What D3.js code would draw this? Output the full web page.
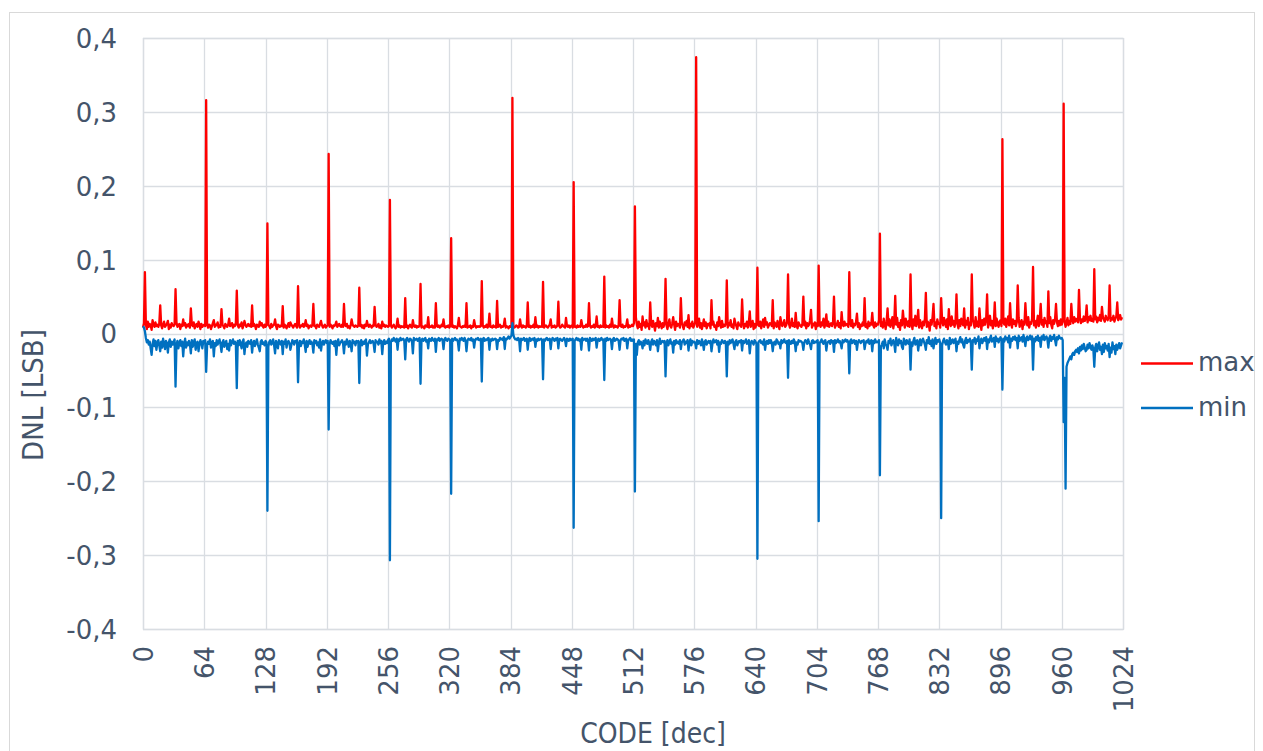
<!DOCTYPE html>
<html>
<head>
<meta charset="utf-8">
<script src="https://cdn.jsdelivr.net/npm/d3@7"></script>
<style>
  body { margin: 0; background: #ffffff; }
  svg { display: block; }
</style>
</head>
<body>
<svg id="chart" width="1263" height="751"></svg>
<script>
// ---------------- DATA ----------------
const xTickValues = [0, 64, 128, 192, 256, 320, 384, 448, 512, 576, 640, 704, 768, 832, 896, 960, 1024];
const xTickLabels = ["0", "64", "128", "192", "256", "320", "384", "448", "512", "576", "640", "704", "768", "832", "896", "960", "1024"];
const yTickValues = [-0.4, -0.3, -0.2, -0.1, 0, 0.1, 0.2, 0.3, 0.4];
const yTickLabels = ["-0,4", "-0,3", "-0,2", "-0,1", "0", "0,1", "0,2", "0,3", "0,4"];
const xTitle = "CODE [dec]";
const yTitle = "DNL [LSB]";
const seriesNames = ["max", "min"];

// DNL max per code (LSB), codes 0..1023
const maxValues = [
.008,.014,.083,.012,.006,.016,.009,.013,.011,.005,.018,.012,.009,.015,.010,.012,
.009,.013,.038,.011,.007,.012,.016,.009,.011,.013,.017,.006,.012,.008,.014,.011,
.010,.012,.060,.015,.009,.011,.013,.006,.012,.010,.019,.011,.014,.008,.012,.010,
.013,.008,.034,.012,.010,.015,.007,.011,.013,.009,.016,.012,.006,.013,.009,.011,
.012,.010,.316,.013,.008,.012,.011,.006,.010,.014,.018,.009,.012,.011,.015,.008,
.011,.009,.033,.012,.010,.007,.013,.011,.009,.012,.020,.010,.011,.014,.008,.012,
.010,.013,.058,.011,.008,.012,.010,.015,.007,.011,.017,.012,.009,.011,.013,.010,
.012,.009,.038,.010,.013,.011,.006,.012,.010,.009,.016,.011,.014,.010,.008,.012,
.009,.011,.149,.012,.010,.007,.013,.009,.011,.012,.019,.010,.006,.012,.011,.009,
.011,.010,.037,.008,.012,.010,.007,.011,.014,.009,.015,.012,.010,.008,.011,.013,
.010,.008,.064,.012,.008,.011,.010,.013,.009,.011,.018,.010,.012,.007,.010,.011,
.009,.012,.040,.010,.011,.007,.012,.010,.009,.013,.017,.011,.008,.010,.012,.008,
.010,.011,.243,.009,.012,.010,.007,.011,.010,.012,.016,.009,.011,.013,.010,.009,
.012,.009,.040,.011,.010,.013,.008,.010,.007,.011,.019,.012,.010,.009,.011,.010,
.009,.011,.062,.010,.012,.008,.011,.007,.012,.010,.017,.011,.009,.012,.010,.008,
.011,.010,.036,.012,.009,.010,.013,.008,.011,.007,.016,.010,.012,.009,.011,.010,
.009,.010,.181,.011,.008,.010,.012,.009,.007,.010,.020,.009,.011,.008,.010,.009,
.010,.008,.048,.009,.011,.007,.010,.012,.009,.008,.018,.010,.009,.011,.008,.010,
.009,.011,.067,.008,.010,.009,.007,.011,.010,.009,.022,.008,.010,.009,.011,.008,
.010,.008,.041,.010,.009,.011,.008,.009,.012,.010,.019,.009,.008,.010,.009,.011,
.008,.010,.129,.009,.011,.008,.010,.009,.007,.011,.021,.010,.009,.008,.010,.009,
.011,.009,.041,.008,.010,.009,.011,.007,.010,.009,.018,.011,.008,.010,.009,.010,
.009,.010,.071,.011,.008,.010,.009,.012,.008,.010,.027,.009,.010,.008,.011,.009,
.010,.008,.044,.009,.010,.012,.008,.010,.009,.011,.020,.008,.010,.009,.007,.010,
.009,.011,.319,.010,.008,.009,.011,.010,.008,.009,.019,.010,.008,.011,.009,.010,
.008,.010,.042,.009,.011,.008,.010,.009,.012,.008,.022,.009,.011,.008,.010,.009,
.010,.009,.070,.008,.010,.011,.009,.008,.010,.012,.019,.008,.010,.009,.011,.008,
.009,.011,.043,.010,.008,.009,.012,.010,.009,.008,.021,.010,.009,.011,.008,.010,
.011,.008,.205,.009,.010,.008,.011,.009,.010,.009,.018,.011,.008,.010,.009,.012,
.009,.010,.041,.011,.008,.010,.009,.012,.008,.010,.023,.009,.010,.008,.011,.009,
.010,.009,.077,.008,.011,.009,.010,.008,.012,.009,.020,.010,.008,.011,.009,.010,
.008,.011,.045,.010,.009,.012,.008,.010,.009,.011,.019,.008,.011,.009,.010,.012,
.010,.014,.172,.022,.012,.007,.016,.009,.013,.005,.023,.011,.015,.008,.018,.010,
.013,.006,.042,.012,.009,.017,.011,.004,.014,.010,.021,.008,.016,.012,.007,.014,
.009,.015,.074,.011,.006,.013,.019,.010,.008,.014,.022,.012,.005,.016,.010,.013,
.012,.008,.048,.014,.010,.006,.015,.011,.017,.009,.025,.007,.013,.010,.016,.008,
.011,.015,.374,.009,.013,.020,.008,.014,.006,.012,.019,.010,.015,.007,.013,.011,
.014,.007,.045,.012,.016,.009,.011,.005,.015,.010,.022,.013,.008,.017,.009,.012,
.010,.013,.072,.008,.014,.011,.018,.009,.012,.007,.020,.014,.010,.006,.015,.011,
.012,.009,.046,.015,.007,.013,.010,.016,.008,.014,.030,.009,.012,.017,.006,.013,
.008,.014,.089,.011,.010,.016,.007,.013,.019,.009,.021,.012,.015,.008,.011,.014,
.013,.010,.045,.007,.015,.012,.009,.017,.011,.006,.022,.014,.010,.013,.018,.009,
.011,.016,.080,.013,.008,.012,.020,.010,.014,.009,.028,.011,.007,.015,.012,.010,
.009,.013,.050,.011,.016,.007,.014,.010,.012,.018,.032,.008,.013,.011,.015,.006,
.014,.010,.092,.012,.009,.015,.011,.020,.008,.013,.026,.010,.016,.009,.012,.014,
.010,.015,.050,.008,.013,.011,.017,.009,.014,.007,.029,.012,.010,.016,.011,.013,
.012,.009,.083,.014,.010,.018,.008,.013,.011,.015,.027,.009,.014,.006,.012,.010,
.015,.011,.048,.009,.013,.007,.016,.010,.014,.012,.028,.011,.008,.015,.010,.013,
.012,.018,.135,.010,.015,.008,.020,.013,.006,.016,.034,.011,.019,.009,.014,.022,
.007,.015,.051,.012,.021,.009,.014,.005,.018,.011,.031,.016,.008,.020,.013,.010,
.017,.009,.080,.014,.006,.019,.011,.024,.010,.015,.032,.008,.018,.012,.007,.016,
.011,.020,.055,.009,.016,.013,.004,.018,.012,.022,.040,.010,.015,.007,.019,.013,
.014,.008,.048,.017,.011,.021,.015,.009,.019,.006,.033,.014,.010,.023,.012,.017,
.009,.016,.053,.013,.007,.018,.010,.020,.014,.011,.034,.008,.017,.012,.021,.006,
.015,.011,.080,.019,.013,.008,.022,.010,.016,.009,.034,.015,.005,.018,.011,.020,
.012,.019,.053,.008,.015,.024,.011,.017,.007,.014,.042,.010,.020,.013,.009,.016,
.018,.010,.263,.015,.012,.020,.009,.016,.023,.011,.041,.014,.008,.019,.013,.017,
.010,.015,.065,.021,.009,.014,.018,.006,.016,.012,.041,.017,.011,.022,.008,.015,
.013,.020,.090,.011,.017,.008,.015,.024,.010,.019,.040,.012,.018,.009,.021,.014,
.016,.009,.057,.014,.022,.012,.007,.018,.013,.020,.040,.015,.010,.017,.011,.019,
.012,.018,.311,.016,.009,.015,.021,.011,.017,.013,.040,.019,.014,.022,.016,.020,
.018,.015,.059,.021,.014,.019,.016,.023,.017,.020,.038,.015,.022,.018,.024,.017,
.020,.016,.087,.019,.023,.015,.021,.018,.025,.017,.036,.022,.019,.016,.024,.020,
.018,.022,.065,.017,.021,.019,.024,.016,.020,.023,.042,.018,.021,.025,.019,.022
];

// DNL min per code (LSB), codes 0..1023
const minValues = [
.010,.008,.003,-.006,-.012,-.009,-.015,-.011,-.020,-.029,-.014,-.008,-.017,-.010,-.022,-.013,
-.009,-.016,-.024,-.011,-.019,-.007,-.014,-.021,-.010,-.013,-.026,-.012,-.008,-.018,-.011,-.015,
-.012,-.008,-.072,-.015,-.010,-.020,-.013,-.009,-.017,-.011,-.031,-.014,-.007,-.019,-.012,-.016,
-.010,-.014,-.027,-.009,-.018,-.012,-.008,-.022,-.013,-.011,-.024,-.015,-.009,-.013,-.020,-.010,
-.013,-.009,-.052,-.016,-.011,-.014,-.008,-.019,-.012,-.010,-.031,-.013,-.017,-.009,-.015,-.011,
-.008,-.015,-.025,-.012,-.009,-.018,-.013,-.010,-.021,-.014,-.023,-.009,-.016,-.011,-.008,-.014,
-.011,-.013,-.074,-.010,-.016,-.009,-.014,-.020,-.011,-.008,-.028,-.015,-.012,-.018,-.010,-.013,
-.014,-.009,-.026,-.013,-.010,-.017,-.012,-.008,-.015,-.019,-.024,-.011,-.009,-.014,-.012,-.016,
-.010,-.012,-.240,-.018,-.011,-.009,-.015,-.013,-.008,-.016,-.027,-.010,-.013,-.020,-.009,-.012,
-.015,-.010,-.028,-.011,-.014,-.008,-.019,-.012,-.010,-.013,-.022,-.016,-.009,-.011,-.015,-.010,
-.012,-.009,-.066,-.014,-.010,-.017,-.011,-.013,-.008,-.015,-.025,-.010,-.018,-.012,-.009,-.014,
-.011,-.014,-.026,-.009,-.013,-.010,-.016,-.012,-.019,-.008,-.023,-.013,-.010,-.015,-.011,-.009,
-.013,-.010,-.130,-.015,-.009,-.012,-.014,-.011,-.017,-.010,-.029,-.012,-.008,-.016,-.013,-.011,
-.009,-.013,-.027,-.011,-.015,-.008,-.012,-.018,-.010,-.014,-.024,-.009,-.013,-.011,-.016,-.010,
-.012,-.010,-.067,-.013,-.009,-.016,-.011,-.014,-.010,-.008,-.030,-.015,-.012,-.009,-.013,-.011,
-.010,-.014,-.025,-.009,-.012,-.011,-.015,-.008,-.013,-.010,-.028,-.012,-.009,-.014,-.011,-.013,
-.009,-.007,-.307,-.012,-.008,-.010,-.006,-.009,-.011,-.007,-.022,-.008,-.010,-.006,-.009,-.008,
-.007,-.010,-.035,-.008,-.006,-.009,-.011,-.007,-.008,-.010,-.027,-.006,-.009,-.008,-.007,-.010,
-.008,-.006,-.068,-.009,-.007,-.010,-.008,-.006,-.011,-.009,-.020,-.007,-.008,-.010,-.006,-.009,
-.010,-.007,-.025,-.008,-.009,-.006,-.010,-.008,-.007,-.009,-.021,-.008,-.006,-.009,-.010,-.007,
-.008,-.009,-.217,-.007,-.010,-.008,-.006,-.009,-.008,-.011,-.023,-.007,-.009,-.006,-.008,-.010,
-.006,-.009,-.024,-.010,-.007,-.008,-.009,-.006,-.010,-.008,-.019,-.009,-.007,-.008,-.006,-.009,
-.009,-.007,-.065,-.008,-.006,-.010,-.008,-.009,-.007,-.006,-.022,-.008,-.010,-.007,-.009,-.008,
-.007,-.008,-.021,-.009,-.010,-.006,-.008,-.007,-.009,-.005,-.021,-.007,-.008,-.006,-.004,-.007,
-.005,-.003,.014,-.002,-.006,-.008,-.007,-.009,-.006,-.008,-.024,-.007,-.009,-.008,-.006,-.010,
-.008,-.007,-.022,-.009,-.006,-.010,-.008,-.007,-.009,-.006,-.018,-.008,-.010,-.007,-.009,-.008,
-.007,-.009,-.062,-.008,-.010,-.007,-.006,-.009,-.008,-.007,-.021,-.009,-.006,-.008,-.010,-.007,
-.009,-.006,-.020,-.008,-.007,-.009,-.010,-.008,-.006,-.009,-.017,-.007,-.008,-.010,-.007,-.009,
-.008,-.007,-.263,-.010,-.008,-.006,-.009,-.007,-.010,-.008,-.022,-.006,-.009,-.008,-.007,-.010,
-.007,-.009,-.023,-.006,-.008,-.010,-.007,-.009,-.008,-.006,-.019,-.009,-.007,-.010,-.008,-.006,
-.009,-.008,-.063,-.007,-.010,-.006,-.009,-.008,-.007,-.009,-.021,-.008,-.006,-.010,-.009,-.007,
-.008,-.010,-.022,-.009,-.007,-.008,-.006,-.010,-.008,-.007,-.020,-.009,-.008,-.006,-.010,-.008,
-.010,-.008,-.214,-.014,-.029,-.012,-.009,-.015,-.011,-.013,-.020,-.010,-.016,-.008,-.012,-.014,
-.009,-.013,-.022,-.011,-.008,-.015,-.010,-.012,-.016,-.009,-.024,-.013,-.007,-.014,-.011,-.010,
-.012,-.010,-.058,-.013,-.009,-.016,-.011,-.008,-.014,-.012,-.026,-.010,-.015,-.009,-.013,-.011,
-.014,-.009,-.021,-.012,-.010,-.008,-.015,-.011,-.013,-.009,-.023,-.012,-.008,-.016,-.010,-.012,
-.011,-.013,-.020,-.009,-.014,-.010,-.012,-.016,-.008,-.013,-.022,-.011,-.009,-.015,-.012,-.010,
-.013,-.010,-.024,-.014,-.008,-.012,-.011,-.009,-.015,-.010,-.025,-.012,-.014,-.009,-.011,-.013,
-.010,-.012,-.058,-.011,-.015,-.009,-.013,-.010,-.008,-.014,-.021,-.011,-.009,-.016,-.012,-.010,
-.012,-.009,-.023,-.010,-.013,-.011,-.008,-.014,-.012,-.009,-.027,-.013,-.010,-.012,-.015,-.009,
-.011,-.014,-.305,-.012,-.010,-.009,-.013,-.011,-.015,-.008,-.022,-.012,-.010,-.014,-.009,-.013,
-.009,-.012,-.024,-.013,-.011,-.015,-.008,-.010,-.014,-.012,-.020,-.009,-.013,-.011,-.008,-.012,
-.013,-.010,-.060,-.009,-.012,-.014,-.010,-.013,-.008,-.011,-.024,-.012,-.015,-.009,-.011,-.010,
-.011,-.013,-.022,-.012,-.009,-.010,-.014,-.008,-.012,-.015,-.021,-.010,-.009,-.013,-.011,-.012,
-.010,-.009,-.254,-.013,-.011,-.008,-.012,-.014,-.010,-.009,-.023,-.013,-.011,-.010,-.014,-.009,
-.012,-.010,-.025,-.009,-.013,-.011,-.008,-.012,-.010,-.014,-.020,-.009,-.012,-.010,-.008,-.011,
-.009,-.012,-.054,-.010,-.008,-.013,-.011,-.009,-.014,-.010,-.022,-.012,-.009,-.011,-.013,-.010,
-.011,-.009,-.021,-.013,-.010,-.012,-.008,-.014,-.011,-.009,-.024,-.010,-.013,-.008,-.012,-.011,
-.012,-.009,-.192,-.018,-.015,-.011,-.020,-.008,-.014,-.017,-.022,-.010,-.013,-.007,-.016,-.012,
-.009,-.014,-.025,-.006,-.012,-.016,-.008,-.013,-.010,-.018,-.021,-.007,-.011,-.015,-.009,-.013,
-.014,-.008,-.049,-.012,-.017,-.010,-.006,-.015,-.011,-.009,-.023,-.013,-.008,-.016,-.010,-.007,
-.011,-.015,-.022,-.009,-.013,-.005,-.014,-.010,-.017,-.008,-.020,-.012,-.006,-.014,-.009,-.011,
-.008,-.013,-.250,-.016,-.010,-.007,-.012,-.015,-.009,-.011,-.021,-.006,-.014,-.010,-.008,-.013,
-.010,-.007,-.024,-.011,-.014,-.009,-.005,-.012,-.008,-.015,-.019,-.010,-.006,-.013,-.009,-.011,
-.007,-.012,-.049,-.009,-.011,-.006,-.014,-.008,-.010,-.004,-.020,-.011,-.007,-.013,-.009,-.006,
-.010,-.005,-.021,-.008,-.012,-.007,-.003,-.011,-.009,-.006,-.018,-.004,-.010,-.007,-.012,-.008,
-.005,-.009,-.076,-.007,-.011,-.004,-.008,-.006,-.012,-.003,-.019,-.007,-.010,-.005,-.008,-.004,
-.009,-.006,-.020,-.003,-.010,-.007,-.005,-.011,-.002,-.008,-.017,-.006,-.004,-.009,-.007,-.003,
-.008,-.004,-.049,-.007,-.011,-.005,-.009,-.003,-.010,-.006,-.018,-.004,-.008,-.002,-.009,-.006,
-.004,-.008,-.019,-.006,-.003,-.010,-.005,-.007,-.002,-.009,-.016,-.005,-.008,-.003,-.006,-.007,
-.006,-.009,-.120,-.060,-.210,-.045,-.040,-.037,-.034,-.031,-.035,-.028,-.026,-.029,-.024,-.022,
-.025,-.020,-.027,-.018,-.023,-.016,-.021,-.014,-.019,-.024,-.022,-.015,-.020,-.013,-.018,-.022,
-.016,-.021,-.045,-.019,-.014,-.024,-.017,-.012,-.022,-.018,-.028,-.015,-.025,-.013,-.020,-.017,
-.023,-.014,-.032,-.019,-.026,-.012,-.021,-.017,-.028,-.015,-.022,-.018,-.013,-.020,-.016,-.012
];

// ---------------- LAYOUT ----------------
const W = 1263, H = 751;
const plot = { left: 143, right: 1123, top: 38, bottom: 629 };
const textColor = "#44546A";
const gridColor = "#D9DDE2";
const colors = { max: "#FF0000", min: "#0070C0" };

const svg = d3.select("#chart");

// outer chart border
svg.append("rect")
  .attr("x", 9.5).attr("y", 12.5)
  .attr("width", 1245).attr("height", 800)
  .attr("fill", "none").attr("stroke", "#D9D9D9").attr("stroke-width", 1);

const x = d3.scaleLinear().domain([0, 1024]).range([plot.left, plot.right]);
const y = d3.scaleLinear().domain([-0.4, 0.4]).range([plot.bottom, plot.top]);

// gridlines
const grid = svg.append("g");
grid.selectAll("line.h").data(yTickValues).join("line")
  .attr("x1", plot.left).attr("x2", plot.right)
  .attr("y1", d => Math.round(y(d)) + 0.5).attr("y2", d => Math.round(y(d)) + 0.5)
  .attr("stroke", gridColor).attr("stroke-width", 1.3);
grid.selectAll("line.v").data(xTickValues).join("line")
  .attr("y1", plot.top).attr("y2", plot.bottom)
  .attr("x1", d => Math.round(x(d)) + 0.5).attr("x2", d => Math.round(x(d)) + 0.5)
  .attr("stroke", gridColor).attr("stroke-width", 1.3);

// y axis labels
const yAxis = d3.axisLeft(y)
  .tickValues(yTickValues)
  .tickFormat((d, i) => yTickLabels[i])
  .tickSize(0).tickPadding(0);
const yg = svg.append("g").attr("transform", `translate(117,0)`).call(yAxis);
yg.select(".domain").remove();
yg.selectAll("text")
  .attr("fill", textColor)
  .style("font-family", "'DejaVu Sans', Verdana, sans-serif")
  .style("font-size", "26px")
  .attr("x", 0).attr("dy", "0.36em");

// x axis labels (rotated)
const xAxis = d3.axisBottom(x)
  .tickValues(xTickValues)
  .tickFormat((d, i) => xTickLabels[i])
  .tickSize(0).tickPadding(0);
const xg = svg.append("g").attr("transform", `translate(0,${plot.bottom})`).call(xAxis);
xg.select(".domain").remove();
xg.selectAll("text")
  .attr("fill", textColor)
  .style("font-family", "'DejaVu Sans', Verdana, sans-serif")
  .style("font-size", "26px")
  .attr("text-anchor", "end")
  .attr("y", 0).attr("x", 0)
  .attr("dy", "0.36em")
  .attr("transform", "translate(0,17) rotate(-90)");

// axis titles
svg.append("text")
  .attr("transform", "translate(33,395) rotate(-90)")
  .attr("text-anchor", "middle").attr("dy", "0.36em")
  .attr("fill", textColor)
  .style("font-family", "'DejaVu Sans Condensed', 'DejaVu Sans', sans-serif")
  .style("font-stretch", "condensed")
  .style("font-size", "29px")
  .text(yTitle);

svg.append("text")
  .attr("x", 653).attr("y", 743)
  .attr("text-anchor", "middle")
  .attr("fill", textColor)
  .style("font-family", "'DejaVu Sans Condensed', 'DejaVu Sans', sans-serif")
  .style("font-stretch", "condensed")
  .style("font-size", "28px")
  .text(xTitle);

// plot border
svg.append("rect")
  .attr("x", plot.left + 0.5).attr("y", plot.top + 0.5)
  .attr("width", plot.right - plot.left).attr("height", plot.bottom - plot.top)
  .attr("fill", "none").attr("stroke", gridColor).attr("stroke-width", 1.3);

// series
const line = d3.line().x((d, i) => x(i)).y(d => y(d));
const seriesData = { max: maxValues, min: minValues };
seriesNames.forEach(name => {
  svg.append("path")
    .datum(seriesData[name])
    .attr("d", line)
    .attr("fill", "none")
    .attr("stroke", colors[name])
    .attr("stroke-width", 2.3)
    .attr("stroke-linejoin", "round");
});

// legend
const legendY = [363.5, 408];
seriesNames.forEach((name, i) => {
  svg.append("line")
    .attr("x1", 1141).attr("x2", 1193)
    .attr("y1", legendY[i]).attr("y2", legendY[i])
    .attr("stroke", colors[name]).attr("stroke-width", 2.3);
  svg.append("text")
    .attr("x", 1198).attr("y", legendY[i]).attr("dy", "0.3em")
    .attr("fill", textColor)
    .style("font-family", "'DejaVu Sans', Verdana, sans-serif")
    .style("font-size", "26px")
    .text(name);
});
</script>
</body>
</html>
